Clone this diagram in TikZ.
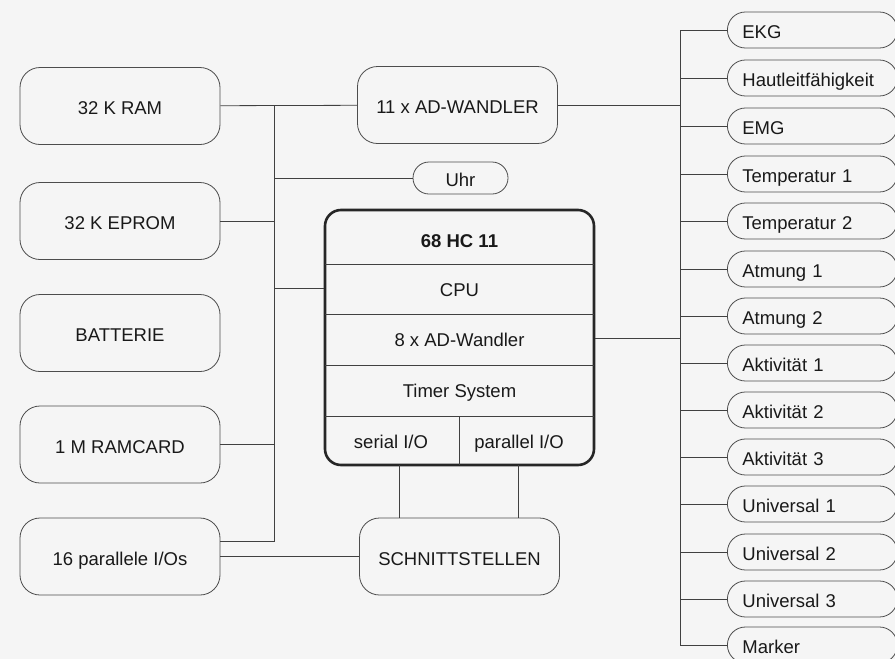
\documentclass[tikz,border=0pt]{standalone}
\usepackage{fontspec}
\setmainfont{Liberation Sans}
\usepackage{xcolor}
\usetikzlibrary{positioning, calc}

\begin{document}
\begin{tikzpicture}[
    x=1pt, y=-1pt,
    line width=0.8pt, draw=black!75,
    every node/.style={font=\fontsize{18.5}{20}\selectfont, text=black!90, text height=19pt, text depth=2pt},
    block/.style={rectangle, draw=black!70, line width=0.8pt, minimum width=200pt, minimum height=77pt, rounded corners=20pt},
    chip/.style={rectangle, draw=black!85, line width=2.6pt, minimum width=269pt, minimum height=255pt, rounded corners=16pt},
    pill/.style={rectangle, draw=black!70, line width=0.8pt, minimum width=95pt, minimum height=32pt, rounded corners=16pt, inner ysep=1pt},
    sensor/.style={rectangle, draw=black!70, line width=0.8pt, anchor=west, minimum width=170pt, minimum height=36pt, rounded corners=18pt, text width=140pt, inner xsep=15pt, inner ysep=1pt, align=left}
]
    % Background and page size
    \fill[black!4] (0,0) rectangle (895,659);
    \useasboundingbox (0,0) rectangle (895,659);

    % Memory blocks
    \node[block] (ram) at (120,106) {32 K RAM};
    \node[block] (eprom) at (120,221) {32 K EPROM};
    \node[block] (batt) at (120,333) {BATTERIE};
    \node[block] (ramcard) at (120,444.5) {1 M RAMCARD};
    \node[block] (pario) at (120,556.5) {16 parallele I/Os};

    % Converter, clock, interfaces
    \node[block] (adw) at (457.5,105) {11 x AD-WANDLER};
    \node[pill] (uhr) at (460.5,178) {Uhr};
    \node[block] (schnitt) at (459.5,556.5) {SCHNITTSTELLEN};

    % Microcontroller
    \node[chip] (cpu) at (459.5,337.5) {};
    \node[font=\fontsize{18.5}{20}\selectfont\bfseries] (hc) at (459.5,239) {68 HC 11};
    \node (cputxt) at (459.5,288) {CPU};
    \node (adtxt) at (459.5,338) {8 x AD-Wandler};
    \node (timer) at (459.5,389) {Timer System};
    \node (serial) at (391,440) {serial I/O};
    \node (parallel) at (519,440) {parallel I/O};
    \draw (325,264) -- (594,264);
    \draw (325,314) -- (594,314);
    \draw (325,365) -- (594,365);
    \draw (325,416) -- (594,416);
    \draw (459,416) -- (459,465);

    % Sensor channels
    \node[sensor] (ekg) at (727,30) {EKG};
    \node[sensor] (haut) at (727,78) {Hautleitfähigkeit};
    \node[sensor] (emg) at (727,126) {EMG};
    \node[sensor] (tempA) at (727,174) {Temperatur 1};
    \node[sensor] (tempB) at (727,221) {Temperatur 2};
    \node[sensor] (atmA) at (727,269) {Atmung 1};
    \node[sensor] (atmB) at (727,316) {Atmung 2};
    \node[sensor] (aktA) at (727,363) {Aktivität 1};
    \node[sensor] (aktB) at (727,410) {Aktivität 2};
    \node[sensor] (aktC) at (727,457) {Aktivität 3};
    \node[sensor] (uniA) at (727,504) {Universal 1};
    \node[sensor] (uniB) at (727,552) {Universal 2};
    \node[sensor] (uniC) at (727,599) {Universal 3};
    \node[sensor] (marker) at (727,645) {Marker};

    % Left bus
    \coordinate (ltop) at (274,106);
    \coordinate (lbot) at (274,541);
    \draw (ram) -- (adw);
    \draw (ltop) -- (lbot) -- (lbot -| pario.east);
    \draw (eprom.east) -- (eprom.east -| ltop);
    \draw (ramcard.east) -- (ramcard.east -| ltop);
    \draw (uhr.west) -- (uhr.west -| ltop);
    \draw (cputxt -| ltop) -- (cputxt -| cpu.west);
    \draw (pario.east) -- (schnitt.west);

    % CPU to interfaces
    \coordinate (ser) at (399,465);
    \coordinate (par) at (518,465);
    \draw (ser) -- (ser |- schnitt.north);
    \draw (par) -- (par |- schnitt.north);

    % Right bus
    \coordinate (rtop) at (680,30);
    \coordinate (rbot) at (680,645);
    \draw (ekg.west) -- (rtop) -- (rbot) -- (marker.west);
    \draw (adw.east) -- (adw.east -| rtop);
    \draw (adtxt -| cpu.east) -- (adtxt -| rtop);
    \draw (haut.west) -- (haut.west -| rtop);
    \draw (emg.west) -- (emg.west -| rtop);
    \draw (tempA.west) -- (tempA.west -| rtop);
    \draw (tempB.west) -- (tempB.west -| rtop);
    \draw (atmA.west) -- (atmA.west -| rtop);
    \draw (atmB.west) -- (atmB.west -| rtop);
    \draw (aktA.west) -- (aktA.west -| rtop);
    \draw (aktB.west) -- (aktB.west -| rtop);
    \draw (aktC.west) -- (aktC.west -| rtop);
    \draw (uniA.west) -- (uniA.west -| rtop);
    \draw (uniB.west) -- (uniB.west -| rtop);
    \draw (uniC.west) -- (uniC.west -| rtop);
\end{tikzpicture}
\end{document}
